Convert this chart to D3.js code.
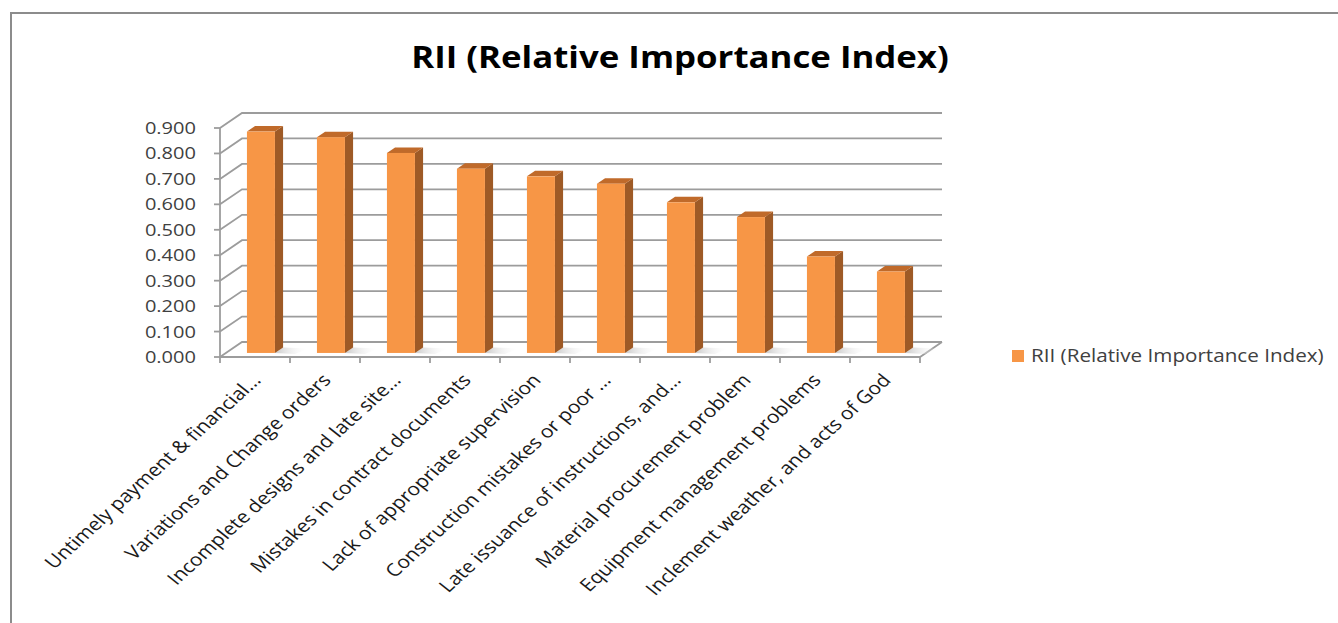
<!DOCTYPE html>
<html>
<head>
<meta charset="utf-8">
<script src="https://cdn.jsdelivr.net/npm/d3@7"></script>
<style>
  body { margin: 0; background: #fff; }
  svg { display: block; }
</style>
</head>
<body>
<div id="chart"></div>
<script>
// Data
const categories = [
    "Untimely payment & financial...",
    "Variations and Change orders",
    "Incomplete designs and late site...",
    "Mistakes in contract documents",
    "Lack of appropriate supervision",
    "Construction mistakes or poor ...",
    "Late issuance of instructions, and...",
    "Material procurement problem",
    "Equipment management problems",
    "Inclement weather, and acts of God"
];
const values = [0.870, 0.848, 0.786, 0.724, 0.694, 0.665, 0.592, 0.534, 0.379, 0.320];
const yTicks = [0, 0.1, 0.2, 0.3, 0.4, 0.5, 0.6, 0.7, 0.8, 0.9];
const titleText = "RII (Relative Importance Index)";
const seriesName = "RII (Relative Importance Index)";

function main() {
    const width = 1338;
    const height = 623;
    const SX = 1.18;          // the original picture is stretched sideways
    const DX = 22, DY = -15;  // depth of the 3d box
    const d0 = 0.27, d1 = 0.64; // front and back depth of the bars
    const font = "'Open Sans', 'DejaVu Sans', sans-serif";

    const svg = d3.select("#chart").append("svg")
        .attr("width", width)
        .attr("height", height);

    // Frame of the chart area
    svg.append("path")
        .attr("d", `M11,${height} L11,13 L${width},13`)
        .attr("fill", "none")
        .attr("stroke", "#8c8c8c")
        .attr("stroke-width", 2);

    // Title
    svg.append("text")
        .attr("transform", `translate(680,68) scale(${SX},1)`)
        .attr("text-anchor", "middle")
        .style("font-family", font)
        .style("font-weight", "bold")
        .style("font-size", "29.5px")
        .attr("fill", "#000")
        .text(titleText);

    // Scales
    const x = d3.scaleBand().domain(categories).range([220, 920]);
    const y = d3.scaleLinear().domain([0, 0.9]).range([357, 128]);
    const bw = x.bandwidth();
    const barW = 28;
    const gridColor = "#9c9c9c";

    // Back wall gridlines and side wall
    const grid = svg.append("g");
    grid.selectAll("path")
        .data(yTicks)
        .enter()
        .append("path")
        .attr("d", t => `M${x.range()[0]},${y(t)} L${x.range()[0] + DX},${y(t) + DY} L${x.range()[1] + DX},${y(t) + DY}`)
        .attr("fill", "none")
        .attr("stroke", gridColor)
        .attr("stroke-width", 1.8);

    // Floor front edge + right edge
    grid.append("path")
        .attr("d", `M${x.range()[0]},${y(0)} L${x.range()[1]},${y(0)} L${x.range()[1] + DX},${y(0) + DY}`)
        .attr("fill", "none")
        .attr("stroke", gridColor)
        .attr("stroke-width", 1.8);

    // Y axis line and ticks
    grid.append("path")
        .attr("d", `M${x.range()[0]},${y(0)} L${x.range()[0]},${y(0.9)}`)
        .attr("stroke", gridColor)
        .attr("stroke-width", 1.8);
    grid.selectAll(".ytick")
        .data(yTicks)
        .enter()
        .append("line")
        .attr("class", "ytick")
        .attr("x1", x.range()[0] - 6).attr("x2", x.range()[0])
        .attr("y1", d => y(d)).attr("y2", d => y(d))
        .attr("stroke", gridColor)
        .attr("stroke-width", 1.8);

    // X ticks at band edges
    const edges = categories.map(c => x(c)).concat([x.range()[1]]);
    grid.selectAll(".xtick")
        .data(edges)
        .enter()
        .append("line")
        .attr("class", "xtick")
        .attr("x1", d => d).attr("x2", d => d)
        .attr("y1", y(0)).attr("y2", y(0) + 6)
        .attr("stroke", gridColor)
        .attr("stroke-width", 1.8);

    // Y labels
    svg.append("g").selectAll("text")
        .data(yTicks)
        .enter()
        .append("text")
        .attr("transform", d => `translate(196,${y(d) + 6}) scale(${SX},1)`)
        .attr("text-anchor", "end")
        .style("font-family", font)
        .style("font-size", "17px")
        .attr("fill", "#404040")
        .text(d => d3.format(".3f")(d));

    // Soft shadows on floor
    const defs = svg.append("defs");
    const grad = defs.append("linearGradient").attr("id", "shadow").attr("x1", 0).attr("x2", 1);
    grad.append("stop").attr("offset", "0%").attr("stop-color", "#c8c8c8");
    grad.append("stop").attr("offset", "100%").attr("stop-color", "#ffffff").attr("stop-opacity", 0);

    const bars = svg.append("g").selectAll("g")
        .data(categories.map((c, i) => ({ c, v: values[i] })))
        .enter()
        .append("g");

    const fx = d => x(d.c) + (bw - barW) / 2 + d0 * DX;
    const base = y(0) + d0 * DY;
    const sdx = (d1 - d0) * DX, sdy = (d1 - d0) * DY;

    bars.append("path")
        .attr("d", d => {
            const x0 = fx(d) + barW;
            return `M${x0},${base} L${x0 + sdx},${base + sdy} L${x0 + sdx + 26},${base + sdy + 1} L${x0 + 20},${base + 1}Z`;
        })
        .attr("fill", "url(#shadow)");

    // Side face
    bars.append("path")
        .attr("d", d => {
            const x0 = fx(d) + barW, yt = y(d.v) + d0 * DY;
            return `M${x0},${base} L${x0},${yt} L${x0 + sdx},${yt + sdy} L${x0 + sdx},${base + sdy}Z`;
        })
        .attr("fill", "#9e5a26");

    // Top face
    bars.append("path")
        .attr("d", d => {
            const x0 = fx(d), yt = y(d.v) + d0 * DY;
            return `M${x0},${yt} L${x0 + barW},${yt} L${x0 + barW + sdx},${yt + sdy} L${x0 + sdx},${yt + sdy}Z`;
        })
        .attr("fill", "#c06a2a");

    // Front face
    bars.append("rect")
        .attr("x", d => fx(d))
        .attr("y", d => y(d.v) + d0 * DY)
        .attr("width", barW)
        .attr("height", d => base - (y(d.v) + d0 * DY))
        .attr("fill", "#f79646");

    // X labels
    svg.append("g").selectAll("text")
        .data(categories)
        .enter()
        .append("text")
        .attr("transform", c => `translate(${x(c) + bw / 2 + 7},${y(0) + 24}) scale(${SX},1) rotate(-47)`)
        .attr("text-anchor", "end")
        .style("font-family", font)
        .style("font-size", "17.8px")
        .attr("fill", "#1a1a1a")
        .text(c => c);

    // Legend
    svg.append("rect")
        .attr("x", 1012).attr("y", 350)
        .attr("width", 12).attr("height", 12)
        .attr("fill", "#f79646");
    svg.append("text")
        .attr("transform", `translate(1031,362) scale(${SX},1)`)
        .style("font-family", font)
        .style("font-size", "17.5px")
        .attr("fill", "#404040")
        .text(seriesName);
}

main()
</script>
</body>
</html>
